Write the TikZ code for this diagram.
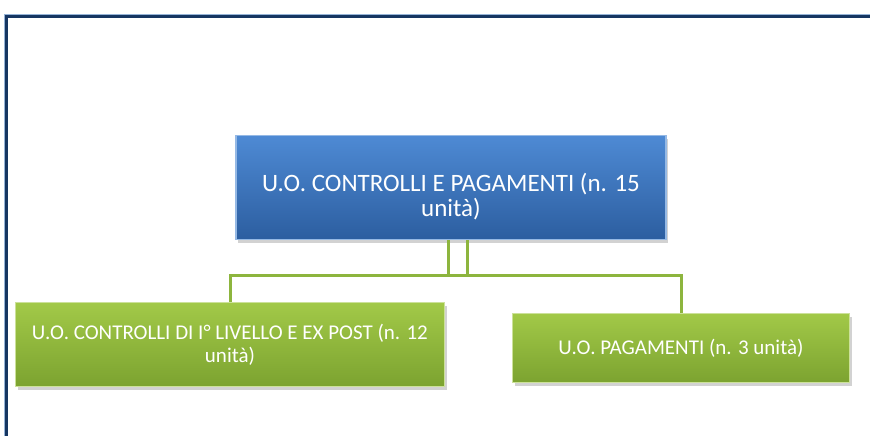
\documentclass[tikz,border=0pt]{standalone}
\usepackage{fontspec}
\setmainfont{Carlito}
\usetikzlibrary{shadows}
\definecolor{frameBlue}{RGB}{22,54,98}
\definecolor{frameLight}{RGB}{150,180,215}
\definecolor{boxBlueTop}{RGB}{78,138,212}
\definecolor{boxBlueBot}{RGB}{44,94,160}
\definecolor{boxGreenTop}{RGB}{162,201,72}
\definecolor{boxGreenBot}{RGB}{124,163,48}
\definecolor{lineGreen}{RGB}{141,181,62}

\begin{document}
\begin{tikzpicture}[x=1pt, y=-1pt,
    unitbox/.style={rectangle, text=white, align=center,
      drop shadow={shadow xshift=2pt, shadow yshift=-3pt, opacity=0.35}},
    bluebox/.style={unitbox, top color=boxBlueTop, bottom color=boxBlueBot,
      draw=boxBlueTop!60!white, line width=1.2pt},
    greenbox/.style={unitbox, top color=boxGreenTop, bottom color=boxGreenBot,
      draw=boxGreenTop!55!white, line width=1.2pt},
    conn/.style={lineGreen, line width=3pt}]
      \useasboundingbox (0,0) rectangle (870,436);
      \fill[white] (0,0) rectangle (870,436);

      % frame of the slide
      \draw[frameLight, line width=1pt] (4.5,436) -- (4.5,14.5) -- (870,14.5);
      \draw[frameBlue, line width=2.2pt] (6.5,436) -- (6.5,16.5) -- (870,16.5);

      % units
      \node[bluebox, minimum width=430pt, minimum height=104pt,
        font=\fontsize{25}{25}\selectfont] (controlli) at (451,187.5)
        {\rule{0pt}{36pt}U.O. CONTROLLI E PAGAMENTI (n. 15\\unità)};
      \node[greenbox, minimum width=429pt, minimum height=84pt,
        font=\fontsize{21}{23}\selectfont] (primolivello) at (230,344.5)
        {U.O. CONTROLLI DI I° LIVELLO E EX POST (n. 12\\unità)};
      \node[greenbox, minimum width=337pt, minimum height=69pt,
        font=\fontsize{21}{23}\selectfont] (pagamenti) at (681,348)
        {U.O. PAGAMENTI (n. 3 unità)};

      % connectors
      \coordinate (jL) at (448,275);
      \coordinate (jR) at (467,275);
      \draw[conn] (jR |- controlli.south) -- (jR) -| (primolivello.north);
      \draw[conn] (jL |- controlli.south) -- (jL) -| (pagamenti.north);
    \end{tikzpicture}
\end{document}
